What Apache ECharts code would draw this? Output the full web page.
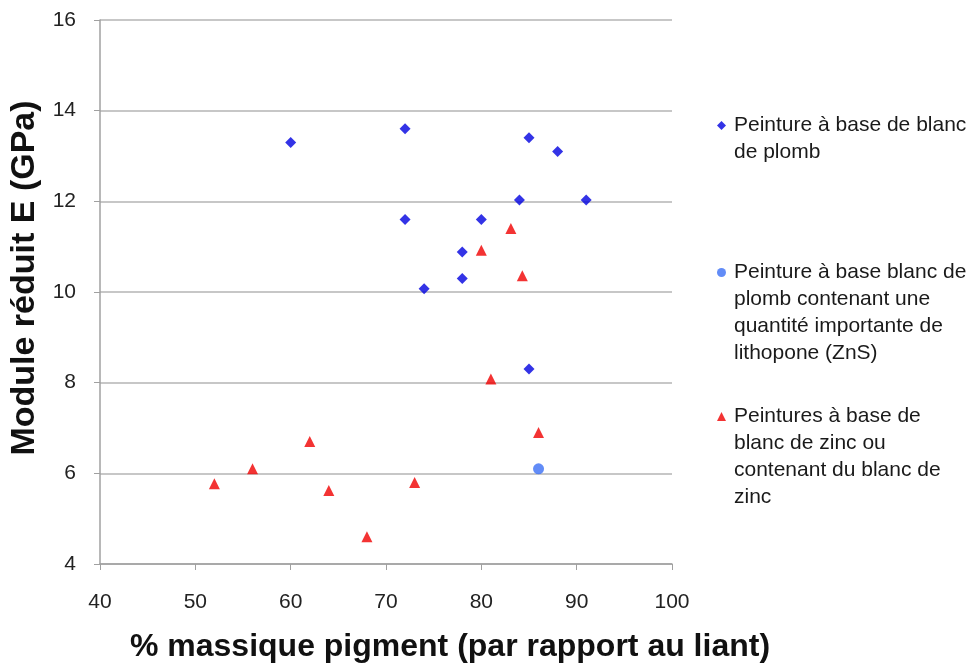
<!DOCTYPE html>
<html><head><meta charset="utf-8">
<script src="https://cdn.jsdelivr.net/npm/echarts@6/dist/echarts.min.js"></script>
<style>html,body{margin:0;padding:0;background:#fff}#c{width:974px;height:664px}</style>
</head><body><div id="c"></div>
<script>
const seriesNames = [
  'Peinture à base de blanc\nde plomb',
  'Peinture à base blanc de\nplomb contenant une\nquantité importante de\nlithopone (ZnS)',
  'Peintures à base de\nblanc de zinc ou\ncontenant du blanc de\nzinc'
];
const leadX = [60, 72, 85, 88, 84, 91, 72, 80, 78, 78, 74, 85];
const leadY = [13.3, 13.6, 13.4, 13.1, 12.03, 12.03, 11.6, 11.6, 10.88, 10.3, 10.07, 8.3];
const lithoX = [86];
const lithoY = [6.1];
const zincX = [83.1, 80, 84.3, 81, 86, 52, 56, 62, 64, 68, 73];
const zincY = [11.4, 10.92, 10.36, 8.08, 6.9, 5.77, 6.1, 6.7, 5.62, 4.6, 5.8];
const xTicks = [40, 50, 60, 70, 80, 90, 100];
const yTicks = [4, 6, 8, 10, 12, 14, 16];

const zip = (a, b) => a.map((v, i) => [v, b[i]]);
const font = 'Liberation Sans, Arial, sans-serif';
const colors = ['#0000e0', '#3b6ff5', '#f00000'];
const symbols = ['diamond', 'circle', 'triangle'];
const sizes = [11, 11, 11];

function legendItem(idx, top) {
  const lines = seriesNames[idx].split('\n');
  const pad = '\n'.repeat(lines.length - 1);
  return {
    data: [{ name: seriesNames[idx], icon: symbols[idx] }],
    orient: 'vertical', left: 717, top: top, padding: 0,
    itemWidth: 9, itemHeight: 9,
    selectedMode: false,
    formatter: n => pad + n,
    textStyle: { fontFamily: font, fontSize: 21, color: '#1a1a1a', lineHeight: 27, padding: [0, 0, 0, 3] }
  };
}

const chart = echarts.init(document.getElementById('c'), null, { renderer: 'canvas' });
chart.setOption({
  backgroundColor: '#fff',
  animation: false,
  grid: { left: 100, right: 302, top: 20, bottom: 100, containLabel: false, outerBoundsMode: 'none' },
  legend: [legendItem(0, 85), legendItem(1, 178), legendItem(2, 322)],
  xAxis: {
    type: 'value', min: xTicks[0], max: xTicks[xTicks.length - 1], interval: 10,
    name: '% massique pigment (par rapport au liant)', nameLocation: 'middle', nameGap: 67,
    nameTextStyle: { fontFamily: font, fontSize: 32, fontWeight: 'bold', color: '#111', padding: [0, 0, 0, 128] },
    axisLine: { show: true, lineStyle: { color: '#a0a0a0', width: 1.5 } },
    axisTick: { show: true, length: 6, lineStyle: { color: '#a0a0a0' } },
    axisLabel: { margin: 28, fontFamily: font, fontSize: 21, color: '#222' },
    splitLine: { show: false }
  },
  yAxis: {
    type: 'value', min: yTicks[0], max: yTicks[yTicks.length - 1], interval: 2,
    name: 'Module réduit E (GPa)', nameLocation: 'middle', nameGap: 58,
    nameTextStyle: { fontFamily: font, fontSize: 34, fontWeight: 'bold', color: '#111', padding: [0, 0, 0, 28] },
    axisLine: { show: true, lineStyle: { color: '#a0a0a0', width: 1.5 } },
    axisTick: { show: true, length: 6, lineStyle: { color: '#a0a0a0' } },
    axisLabel: { margin: 24, fontFamily: font, fontSize: 21, color: '#222' },
    splitLine: { show: true, lineStyle: { color: '#b4b4b4', width: 1.5 } }
  },
  series: [
    { name: seriesNames[0], type: 'scatter', data: zip(leadX, leadY), symbol: symbols[0], symbolSize: sizes[0], itemStyle: { color: colors[0] } },
    { name: seriesNames[1], type: 'scatter', data: zip(lithoX, lithoY), symbol: symbols[1], symbolSize: sizes[1], itemStyle: { color: colors[1] } },
    { name: seriesNames[2], type: 'scatter', data: zip(zincX, zincY), symbol: symbols[2], symbolSize: sizes[2], itemStyle: { color: colors[2] } }
  ]
});
</script></body></html>
